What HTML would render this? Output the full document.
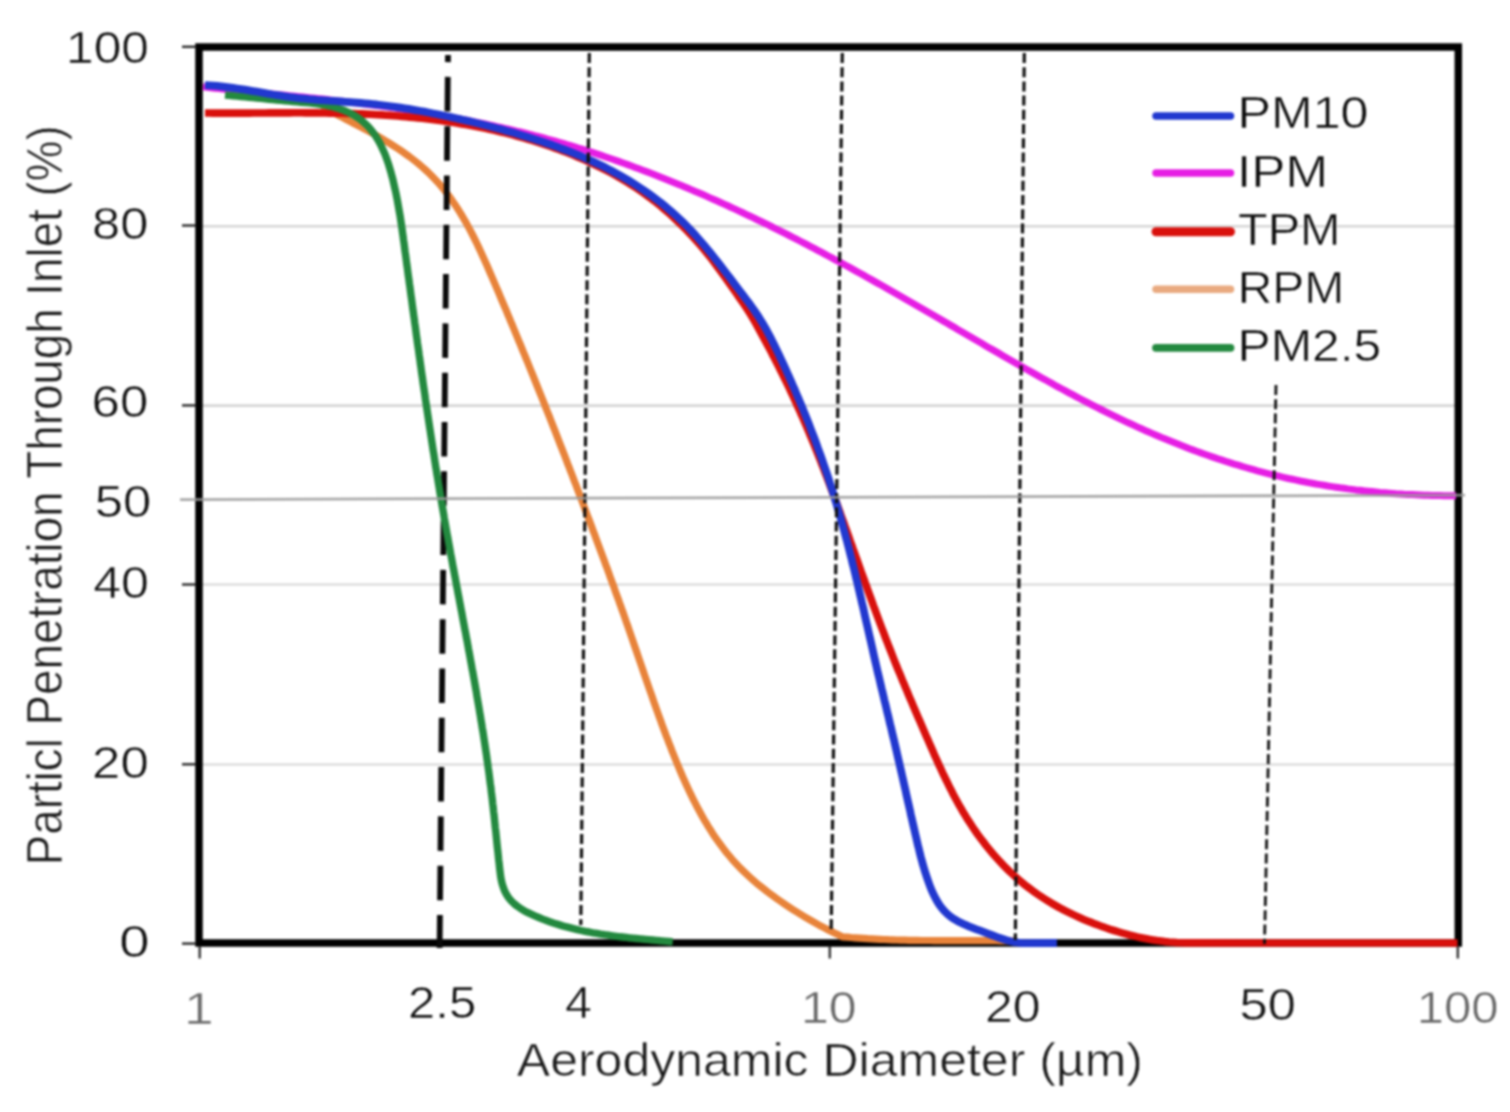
<!DOCTYPE html>
<html lang="en"><head><meta charset="utf-8"><title>Particle penetration through inlet</title>
<style>html,body{margin:0;padding:0;background:#fff}body{width:1510px;height:1112px;overflow:hidden}svg{display:block;filter:blur(0.8px)}text{font-kerning:none;stroke:#fff;stroke-width:0.6px;stroke-linejoin:round}</style>
</head><body>
<svg width="1510" height="1112" viewBox="0 0 1510 1112" font-family="Liberation Sans, sans-serif">
<rect width="1510" height="1112" fill="#fff"/>
<line x1="200" x2="1458" y1="226.3" y2="226.3" stroke="#d6d6d6" stroke-width="2.6"/>
<line x1="200" x2="1458" y1="405.6" y2="405.6" stroke="#d6d6d6" stroke-width="2.6"/>
<line x1="200" x2="1458" y1="584.5" y2="584.5" stroke="#d6d6d6" stroke-width="2"/>
<line x1="200" x2="1458" y1="764.5" y2="764.5" stroke="#d6d6d6" stroke-width="2"/>
<rect x="199" y="47" width="1259.3" height="896" fill="none" stroke="#000" stroke-width="7.5"/>
<line x1="182" x2="196" y1="46.8" y2="46.8" stroke="#2a2a2a" stroke-width="2.4"/>
<line x1="182" x2="196" y1="225.5" y2="225.5" stroke="#2a2a2a" stroke-width="2.4"/>
<line x1="182" x2="196" y1="405.4" y2="405.4" stroke="#2a2a2a" stroke-width="2.4"/>
<line x1="182" x2="196" y1="584.5" y2="584.5" stroke="#2a2a2a" stroke-width="2.4"/>
<line x1="182" x2="196" y1="764.3" y2="764.3" stroke="#2a2a2a" stroke-width="2.4"/>
<line x1="182" x2="196" y1="943.6" y2="943.6" stroke="#2a2a2a" stroke-width="2.4"/>
<line x1="199.7" x2="199.7" y1="946" y2="958.5" stroke="#333" stroke-width="2.4"/>
<line x1="829.8" x2="829.8" y1="946" y2="958.5" stroke="#333" stroke-width="2.4"/>
<line x1="1457.8" x2="1457.8" y1="946" y2="958.5" stroke="#333" stroke-width="2.4"/>
<path d="M203.0,86.8 L207.0,87.3 L211.0,87.7 L215.0,88.2 L219.0,88.6 L223.0,89.1 L227.0,89.5 L231.0,89.9 L235.0,90.3 L238.9,90.7 L242.9,91.1 L246.9,91.5 L250.9,91.9 L254.9,92.3 L258.9,92.7 L262.9,93.1 L266.9,93.5 L270.9,93.9 L274.9,94.3 L278.9,94.7 L282.9,95.1 L286.9,95.5 L290.9,95.9 L294.8,96.3 L298.8,96.7 L302.8,97.1 L306.8,97.5 L310.8,97.9 L314.8,98.3 L318.8,98.7 L322.8,99.1 L326.7,99.5 L330.7,100.0 L334.7,100.4 L338.7,100.9 L342.7,101.3 L346.6,101.8 L350.6,102.2 L354.6,102.7 L358.6,103.2 L362.5,103.7 L366.5,104.2 L370.5,104.7 L374.4,105.2 L378.4,105.7 L382.4,106.3 L386.3,106.8 L390.3,107.4 L394.3,107.9 L398.2,108.5 L402.2,109.1 L406.1,109.7 L410.1,110.3 L414.0,110.9 L418.0,111.6 L422.0,112.2 L425.9,112.9 L429.9,113.5 L433.8,114.2 L437.8,114.9 L441.7,115.6 L445.6,116.3 L449.6,117.0 L453.5,117.8 L457.5,118.5 L461.4,119.3 L465.4,120.0 L469.3,120.8 L473.2,121.6 L477.2,122.4 L481.1,123.2 L485.0,124.0 L489.0,124.9 L492.9,125.7 L496.8,126.6 L500.8,127.4 L504.7,128.3 L508.6,129.2 L512.5,130.1 L516.4,131.1 L520.3,132.0 L524.2,133.0 L528.1,134.0 L532.0,134.9 L535.9,136.0 L539.8,137.0 L543.6,138.0 L547.5,139.1 L551.4,140.1 L555.3,141.2 L559.1,142.3 L563.0,143.4 L566.8,144.6 L570.6,145.7 L574.5,146.9 L578.3,148.1 L582.1,149.2 L586.0,150.4 L589.8,151.7 L593.6,152.9 L597.4,154.1 L601.2,155.4 L605.0,156.7 L608.8,158.0 L612.6,159.3 L616.4,160.6 L620.2,161.9 L623.9,163.3 L627.7,164.6 L631.5,166.0 L635.2,167.4 L639.0,168.8 L642.7,170.2 L646.5,171.6 L650.2,173.0 L654.0,174.5 L657.7,175.9 L661.4,177.4 L665.2,178.9 L668.9,180.4 L672.6,181.9 L676.3,183.4 L680.0,184.9 L683.7,186.5 L687.4,188.0 L691.1,189.6 L694.8,191.2 L698.5,192.7 L702.2,194.3 L705.8,195.9 L709.5,197.6 L713.2,199.2 L716.8,200.8 L720.5,202.5 L724.1,204.1 L727.8,205.8 L731.4,207.5 L735.1,209.1 L738.7,210.8 L742.3,212.5 L746.0,214.3 L749.6,216.0 L753.2,217.7 L756.8,219.5 L760.5,221.2 L764.1,223.0 L767.7,224.7 L771.3,226.5 L774.9,228.3 L778.5,230.1 L782.0,231.9 L785.6,233.7 L789.2,235.5 L792.8,237.3 L796.4,239.2 L799.9,241.0 L803.5,242.8 L807.0,244.7 L810.6,246.6 L814.2,248.4 L817.7,250.3 L821.3,252.2 L824.8,254.1 L828.3,256.0 L831.9,257.9 L835.4,259.8 L838.9,261.7 L842.4,263.6 L846.0,265.5 L849.5,267.4 L853.0,269.4 L856.5,271.3 L860.0,273.3 L863.5,275.2 L867.0,277.2 L870.5,279.1 L874.0,281.1 L877.5,283.1 L881.0,285.0 L884.5,287.0 L887.9,289.0 L891.4,291.0 L894.9,293.0 L898.4,295.0 L901.9,297.0 L905.3,299.0 L908.8,301.0 L912.3,303.0 L915.7,305.0 L919.2,307.0 L922.7,309.0 L926.1,311.0 L929.6,313.0 L933.1,315.0 L936.5,317.0 L940.0,319.1 L943.5,321.1 L946.9,323.1 L950.4,325.1 L953.9,327.1 L957.3,329.2 L960.8,331.2 L964.3,333.2 L967.7,335.2 L971.2,337.3 L974.6,339.3 L978.1,341.3 L981.6,343.3 L985.1,345.4 L988.5,347.4 L992.0,349.4 L995.5,351.4 L999.0,353.4 L1002.4,355.4 L1005.9,357.5 L1009.4,359.5 L1012.9,361.5 L1016.4,363.5 L1019.9,365.5 L1023.3,367.5 L1026.8,369.5 L1030.3,371.4 L1033.8,373.4 L1037.3,375.4 L1040.8,377.4 L1044.4,379.3 L1047.9,381.3 L1051.4,383.2 L1054.9,385.2 L1058.4,387.1 L1062.0,389.0 L1065.5,390.9 L1069.0,392.8 L1072.6,394.7 L1076.1,396.6 L1079.7,398.5 L1083.2,400.4 L1086.8,402.2 L1090.4,404.1 L1093.9,405.9 L1097.5,407.7 L1101.1,409.5 L1104.7,411.3 L1108.3,413.1 L1111.9,414.9 L1115.5,416.6 L1119.1,418.4 L1122.7,420.1 L1126.3,421.8 L1130.0,423.5 L1133.6,425.2 L1137.2,426.9 L1140.9,428.5 L1144.5,430.2 L1148.2,431.8 L1151.9,433.4 L1155.6,435.0 L1159.2,436.5 L1162.9,438.1 L1166.6,439.6 L1170.3,441.1 L1174.0,442.6 L1177.8,444.1 L1181.5,445.6 L1185.2,447.0 L1188.9,448.5 L1192.7,449.9 L1196.4,451.3 L1200.2,452.6 L1204.0,454.0 L1207.7,455.3 L1211.5,456.6 L1215.3,457.9 L1219.1,459.2 L1222.9,460.4 L1226.7,461.7 L1230.5,462.9 L1234.3,464.1 L1238.2,465.2 L1242.0,466.4 L1245.8,467.5 L1249.7,468.6 L1253.5,469.7 L1257.4,470.8 L1261.3,471.8 L1265.1,472.8 L1269.0,473.8 L1272.9,474.8 L1276.8,475.7 L1280.7,476.7 L1284.6,477.6 L1288.5,478.5 L1292.4,479.3 L1296.4,480.1 L1300.3,481.0 L1304.2,481.7 L1308.2,482.5 L1312.2,483.2 L1316.1,484.0 L1320.1,484.6 L1324.0,485.3 L1328.0,486.0 L1332.0,486.6 L1336.0,487.2 L1340.0,487.8 L1344.0,488.3 L1347.9,488.9 L1351.9,489.4 L1355.9,489.9 L1359.9,490.3 L1363.9,490.8 L1368.0,491.2 L1372.0,491.6 L1376.0,492.0 L1380.0,492.4 L1384.0,492.7 L1388.0,493.1 L1392.0,493.4 L1396.0,493.7 L1400.0,493.9 L1404.0,494.2 L1408.0,494.4 L1412.1,494.6 L1416.1,494.8 L1420.1,495.0 L1424.1,495.2 L1428.1,495.3 L1432.1,495.4 L1436.1,495.5 L1440.0,495.6 L1444.0,495.7 L1448.0,495.7 L1452.0,495.8 L1456.0,495.8" fill="none" stroke="#e61ee4" stroke-width="7" stroke-linejoin="round"/>
<path d="M322.1,106.4 L325.5,108.3 L328.9,110.2 L332.4,112.1 L335.8,113.9 L339.3,115.8 L342.9,117.6 L346.4,119.5 L349.9,121.3 L353.5,123.2 L357.1,125.0 L360.6,126.9 L364.2,128.8 L367.7,130.7 L371.3,132.7 L374.9,134.7 L378.4,136.7 L381.9,138.7 L385.4,140.8 L388.9,142.9 L392.4,145.1 L395.8,147.3 L399.3,149.5 L402.6,151.8 L406.0,154.2 L409.2,156.5 L412.5,159.0 L415.7,161.5 L418.8,164.0 L421.8,166.6 L424.8,169.3 L427.8,172.0 L430.6,174.8 L433.4,177.6 L436.1,180.5 L438.8,183.4 L441.4,186.4 L443.9,189.5 L446.3,192.6 L448.7,195.7 L451.0,198.9 L453.3,202.2 L455.5,205.4 L457.7,208.8 L459.8,212.1 L461.9,215.5 L463.9,219.0 L465.9,222.4 L467.8,225.9 L469.7,229.4 L471.6,233.0 L473.4,236.5 L475.2,240.1 L477.0,243.8 L478.7,247.4 L480.4,251.0 L482.1,254.7 L483.8,258.4 L485.4,262.1 L487.1,265.8 L488.7,269.5 L490.3,273.2 L491.9,276.9 L493.5,280.7 L495.1,284.4 L496.7,288.1 L498.3,291.8 L499.9,295.6 L501.4,299.3 L503.0,303.0 L504.6,306.7 L506.2,310.4 L507.7,314.2 L509.3,317.9 L510.8,321.6 L512.4,325.3 L513.9,329.0 L515.5,332.8 L517.0,336.5 L518.5,340.2 L520.1,343.9 L521.6,347.6 L523.1,351.4 L524.7,355.1 L526.2,358.8 L527.7,362.5 L529.2,366.3 L530.7,370.0 L532.2,373.7 L533.7,377.4 L535.2,381.1 L536.7,384.9 L538.2,388.6 L539.7,392.3 L541.2,396.0 L542.7,399.8 L544.2,403.5 L545.6,407.2 L547.1,411.0 L548.6,414.7 L550.1,418.4 L551.5,422.1 L553.0,425.9 L554.5,429.6 L555.9,433.3 L557.4,437.1 L558.8,440.8 L560.3,444.6 L561.8,448.3 L563.2,452.0 L564.7,455.8 L566.1,459.5 L567.5,463.3 L569.0,467.0 L570.4,470.7 L571.9,474.5 L573.3,478.2 L574.7,482.0 L576.2,485.7 L577.6,489.5 L579.0,493.2 L580.4,497.0 L581.9,500.8 L583.3,504.5 L584.7,508.3 L586.1,512.0 L587.5,515.8 L589.0,519.6 L590.4,523.3 L591.8,527.1 L593.2,530.9 L594.6,534.6 L596.0,538.4 L597.4,542.2 L598.8,546.0 L600.2,549.7 L601.6,553.5 L603.0,557.3 L604.4,561.1 L605.8,564.9 L607.2,568.6 L608.6,572.4 L609.9,576.2 L611.3,580.0 L612.7,583.8 L614.1,587.6 L615.4,591.4 L616.8,595.2 L618.2,598.9 L619.5,602.7 L620.9,606.5 L622.2,610.3 L623.6,614.1 L624.9,617.9 L626.2,621.7 L627.6,625.5 L628.9,629.3 L630.2,633.1 L631.5,636.9 L632.8,640.7 L634.1,644.5 L635.4,648.2 L636.7,652.0 L638.0,655.8 L639.3,659.6 L640.6,663.4 L641.9,667.2 L643.2,671.0 L644.5,674.8 L645.8,678.6 L647.1,682.4 L648.4,686.2 L649.7,689.9 L651.1,693.7 L652.4,697.5 L653.7,701.3 L655.0,705.1 L656.4,708.9 L657.7,712.6 L659.1,716.4 L660.5,720.2 L661.8,724.0 L663.2,727.7 L664.6,731.5 L666.0,735.3 L667.5,739.0 L668.9,742.8 L670.4,746.5 L671.8,750.3 L673.3,754.0 L674.8,757.8 L676.3,761.5 L677.9,765.3 L679.4,769.0 L681.0,772.7 L682.6,776.5 L684.3,780.2 L685.9,783.9 L687.6,787.5 L689.3,791.2 L691.1,794.9 L692.8,798.5 L694.7,802.1 L696.5,805.7 L698.4,809.2 L700.3,812.8 L702.2,816.3 L704.2,819.8 L706.3,823.2 L708.3,826.6 L710.5,830.0 L712.6,833.4 L714.8,836.7 L717.1,840.0 L719.4,843.2 L721.8,846.4 L724.2,849.6 L726.6,852.7 L729.2,855.8 L731.7,858.8 L734.4,861.8 L737.1,864.7 L739.8,867.6 L742.6,870.4 L745.5,873.2 L748.4,875.9 L751.4,878.6 L754.4,881.3 L757.5,883.9 L760.6,886.4 L763.8,888.9 L766.9,891.4 L770.2,893.8 L773.4,896.2 L776.7,898.6 L780.0,900.9 L783.4,903.2 L786.7,905.4 L790.1,907.7 L793.5,909.9 L796.9,912.0 L800.4,914.2 L803.8,916.3 L807.3,918.3 L810.8,920.4 L814.3,922.4 L817.8,924.3 L821.3,926.3 L824.9,928.1 L828.4,930.0 L832.0,931.8 L835.6,933.6 L839.2,935.3 L842.8,937.0 L847.1,937.1 L851.2,937.5 L855.3,937.8 L859.5,938.1 L863.6,938.4 L867.7,938.7 L871.8,938.9 L876.0,939.1 L880.1,939.3 L884.2,939.5 L888.4,939.7 L892.5,939.8 L896.7,940.0 L900.8,940.1 L905.0,940.2 L909.1,940.3 L913.3,940.4 L917.4,940.4 L921.6,940.5 L925.7,940.5 L929.9,940.5 L934.0,940.6 L938.2,940.6 L942.3,940.6 L946.5,940.6 L950.6,940.6 L954.8,940.6 L958.9,940.6 L963.1,940.6 L967.2,940.6 L971.4,940.6 L975.5,940.6 L979.7,940.6 L983.8,940.7 L988.0,940.7 L992.1,940.7 L996.3,940.7 L1000.4,940.8 L1004.6,940.8 L1008.7,940.9 L1012.9,941.0 L1017.0,941.0" fill="none" stroke="#e8833a" stroke-width="7.2" stroke-linejoin="round"/>
<line x1="448" y1="55" x2="439.6" y2="948" stroke="#0a0a0a" stroke-width="5.8" stroke-dasharray="34.5 14.8" stroke-dashoffset="27.4"/>
<path d="M205.0,113.0 L209.0,113.0 L213.0,113.1 L217.1,113.1 L221.1,113.1 L225.1,113.1 L229.1,113.1 L233.1,113.1 L237.2,113.1 L241.2,113.1 L245.2,113.1 L249.2,113.1 L253.3,113.0 L257.3,113.0 L261.3,113.0 L265.3,113.0 L269.4,112.9 L273.4,112.9 L277.4,112.9 L281.4,112.9 L285.4,112.9 L289.5,112.9 L293.5,112.8 L297.5,112.8 L301.5,112.8 L305.6,112.9 L309.6,112.9 L313.6,112.9 L317.6,112.9 L321.7,113.0 L325.7,113.0 L329.7,113.1 L333.7,113.1 L337.7,113.2 L341.8,113.3 L345.8,113.4 L349.8,113.5 L353.8,113.6 L357.8,113.8 L361.9,113.9 L365.9,114.1 L369.9,114.3 L373.9,114.5 L377.9,114.7 L381.9,114.9 L386.0,115.2 L390.0,115.4 L394.0,115.7 L398.0,116.0 L402.0,116.4 L406.0,116.7 L410.0,117.1 L414.0,117.5 L418.0,117.9 L422.0,118.3 L426.0,118.8 L430.0,119.2 L434.0,119.7 L438.0,120.3 L442.0,120.8 L446.0,121.4 L449.9,122.0 L453.9,122.6 L457.9,123.2 L461.8,123.9 L465.8,124.6 L469.8,125.3 L473.7,126.0 L477.7,126.8 L481.6,127.6 L485.5,128.4 L489.5,129.3 L493.4,130.1 L497.3,131.0 L501.2,132.0 L505.1,132.9 L509.0,133.9 L512.9,134.9 L516.8,136.0 L520.6,137.0 L524.5,138.1 L528.4,139.3 L532.2,140.4 L536.0,141.6 L539.9,142.8 L543.7,144.1 L547.5,145.4 L551.3,146.7 L555.1,148.1 L558.9,149.5 L562.7,150.9 L566.4,152.3 L570.2,153.8 L573.9,155.3 L577.6,156.9 L581.4,158.5 L585.1,160.1 L588.7,161.8 L592.4,163.5 L596.0,165.2 L599.7,167.0 L603.3,168.8 L606.9,170.6 L610.4,172.5 L614.0,174.5 L617.5,176.4 L621.0,178.5 L624.4,180.5 L627.8,182.6 L631.2,184.7 L634.6,186.9 L638.0,189.1 L641.3,191.4 L644.5,193.7 L647.8,196.1 L651.0,198.5 L654.2,200.9 L657.3,203.4 L660.4,205.9 L663.5,208.5 L666.5,211.1 L669.5,213.7 L672.5,216.4 L675.4,219.1 L678.3,221.9 L681.2,224.7 L684.0,227.5 L686.8,230.4 L689.6,233.3 L692.3,236.2 L695.0,239.2 L697.7,242.2 L700.4,245.2 L703.0,248.3 L705.5,251.4 L708.1,254.6 L710.6,257.7 L713.1,260.9 L715.5,264.1 L717.9,267.4 L720.3,270.6 L722.7,273.9 L725.1,277.2 L727.4,280.5 L729.7,283.8 L732.0,287.1 L734.3,290.4 L736.6,293.7 L738.9,297.0 L741.2,300.3 L743.5,303.6 L745.7,306.9 L747.9,310.2 L750.0,313.6 L752.1,317.0 L754.1,320.4 L756.1,323.9 L758.0,327.4 L759.9,330.9 L761.8,334.4 L763.7,337.9 L765.6,341.4 L767.5,345.0 L769.4,348.5 L771.3,352.1 L773.1,355.7 L775.0,359.2 L776.8,362.8 L778.6,366.4 L780.4,370.0 L782.2,373.6 L784.0,377.3 L785.8,380.9 L787.5,384.5 L789.3,388.2 L791.0,391.8 L792.7,395.5 L794.4,399.1 L796.1,402.8 L797.7,406.5 L799.4,410.1 L801.0,413.8 L802.7,417.5 L804.3,421.2 L805.9,424.9 L807.4,428.6 L809.0,432.3 L810.5,436.0 L812.1,439.7 L813.6,443.4 L815.1,447.2 L816.6,450.9 L818.1,454.6 L819.6,458.4 L821.1,462.1 L822.5,465.9 L824.0,469.6 L825.4,473.3 L826.9,477.1 L828.3,480.9 L829.7,484.6 L831.1,488.4 L832.5,492.1 L833.9,495.9 L835.3,499.7 L836.7,503.4 L838.1,507.2 L839.5,511.0 L840.8,514.8 L842.2,518.5 L843.6,522.3 L844.9,526.1 L846.3,529.9 L847.6,533.6 L849.0,537.4 L850.3,541.2 L851.7,545.0 L853.0,548.8 L854.4,552.6 L855.7,556.3 L857.1,560.1 L858.4,563.9 L859.8,567.7 L861.1,571.5 L862.5,575.3 L863.9,579.0 L865.2,582.8 L866.6,586.6 L867.9,590.4 L869.3,594.1 L870.7,597.9 L872.1,601.7 L873.4,605.5 L874.8,609.2 L876.2,613.0 L877.6,616.8 L879.0,620.5 L880.4,624.3 L881.8,628.0 L883.3,631.8 L884.7,635.6 L886.1,639.3 L887.6,643.1 L889.0,646.8 L890.5,650.5 L892.0,654.3 L893.4,658.0 L894.9,661.8 L896.4,665.5 L897.9,669.2 L899.5,672.9 L901.0,676.7 L902.5,680.4 L904.1,684.1 L905.6,687.8 L907.2,691.5 L908.7,695.2 L910.3,698.9 L911.9,702.6 L913.4,706.3 L915.0,710.0 L916.6,713.7 L918.2,717.4 L919.8,721.1 L921.4,724.8 L923.0,728.5 L924.6,732.2 L926.2,735.9 L927.8,739.6 L929.4,743.3 L931.0,746.9 L932.6,750.6 L934.2,754.3 L935.9,758.0 L937.5,761.6 L939.2,765.3 L940.9,768.9 L942.5,772.6 L944.3,776.2 L946.0,779.8 L947.8,783.4 L949.5,787.0 L951.4,790.6 L953.2,794.2 L955.1,797.7 L957.0,801.2 L958.9,804.7 L960.9,808.2 L962.9,811.7 L965.0,815.1 L967.1,818.6 L969.3,821.9 L971.5,825.3 L973.7,828.7 L976.0,832.0 L978.3,835.3 L980.7,838.5 L983.2,841.7 L985.6,844.9 L988.2,848.1 L990.7,851.2 L993.3,854.3 L996.0,857.3 L998.7,860.3 L1001.4,863.2 L1004.2,866.1 L1007.1,869.0 L1009.9,871.8 L1012.9,874.5 L1015.8,877.2 L1018.9,879.8 L1021.9,882.4 L1025.0,885.0 L1028.2,887.4 L1031.4,889.8 L1034.6,892.2 L1037.9,894.5 L1041.2,896.7 L1044.6,898.9 L1048.0,901.0 L1051.4,903.1 L1054.9,905.1 L1058.4,907.1 L1061.9,909.0 L1065.5,910.8 L1069.1,912.6 L1072.7,914.4 L1076.4,916.1 L1080.0,917.8 L1083.7,919.4 L1087.4,920.9 L1091.2,922.4 L1094.9,923.9 L1098.7,925.3 L1102.5,926.7 L1106.3,928.0 L1110.1,929.3 L1114.0,930.5 L1117.8,931.7 L1121.7,932.8 L1125.5,933.9 L1129.4,935.0 L1133.3,935.9 L1137.2,936.9 L1141.1,937.7 L1145.1,938.5 L1149.0,939.3 L1153.0,940.0 L1156.9,940.6 L1160.9,941.1 L1164.9,941.6 L1168.9,942.0 L1172.9,942.3 L1176.9,942.6 L1180.9,942.8 L1185.0,942.9 L1189.0,942.9 L1457.5,943.0" fill="none" stroke="#d9100c" stroke-width="7.6" stroke-linejoin="round"/>
<path d="M225.0,95.1 L229.1,95.4 L233.1,95.8 L237.1,96.1 L241.1,96.5 L245.1,96.9 L249.1,97.2 L253.1,97.6 L257.1,98.0 L261.1,98.4 L265.1,98.8 L269.0,99.2 L273.0,99.6 L277.0,100.0 L281.0,100.4 L285.0,100.8 L289.0,101.1 L293.0,101.5 L297.0,101.9 L301.0,102.2 L305.1,102.6 L309.2,102.9 L313.2,103.4 L317.3,103.9 L321.3,104.5 L325.3,105.2 L329.3,106.0 L333.3,106.9 L337.2,108.1 L341.1,109.4 L344.9,110.8 L348.6,112.5 L352.2,114.3 L355.6,116.3 L358.9,118.4 L362.0,120.8 L364.9,123.4 L367.7,126.1 L370.3,128.9 L372.7,132.0 L375.0,135.1 L377.1,138.4 L379.1,141.8 L380.9,145.3 L382.6,149.0 L384.3,152.7 L385.8,156.4 L387.2,160.3 L388.5,164.2 L389.7,168.1 L390.9,172.1 L391.9,176.1 L393.0,180.1 L393.9,184.1 L394.8,188.1 L395.7,192.0 L396.5,196.0 L397.3,200.0 L398.0,204.0 L398.7,208.0 L399.4,212.0 L400.1,215.9 L400.7,219.9 L401.3,223.9 L401.9,227.9 L402.4,231.8 L403.0,235.8 L403.5,239.8 L404.1,243.8 L404.6,247.7 L405.1,251.7 L405.7,255.7 L406.2,259.6 L406.7,263.6 L407.3,267.6 L407.8,271.6 L408.3,275.5 L408.9,279.5 L409.4,283.5 L410.0,287.5 L410.5,291.5 L411.0,295.4 L411.6,299.4 L412.1,303.4 L412.6,307.4 L413.2,311.4 L413.7,315.3 L414.3,319.3 L414.8,323.3 L415.4,327.3 L415.9,331.3 L416.4,335.2 L417.0,339.2 L417.5,343.2 L418.1,347.2 L418.7,351.2 L419.2,355.2 L419.8,359.1 L420.3,363.1 L420.9,367.1 L421.4,371.1 L422.0,375.1 L422.6,379.1 L423.1,383.0 L423.7,387.0 L424.3,391.0 L424.9,395.0 L425.4,399.0 L426.0,403.0 L426.6,406.9 L427.2,410.9 L427.8,414.9 L428.4,418.9 L429.0,422.9 L429.6,426.9 L430.2,430.8 L430.8,434.8 L431.4,438.8 L432.0,442.8 L432.6,446.8 L433.2,450.7 L433.9,454.7 L434.5,458.7 L435.1,462.7 L435.7,466.6 L436.4,470.6 L437.0,474.6 L437.7,478.6 L438.3,482.5 L439.0,486.5 L439.6,490.5 L440.3,494.5 L440.9,498.4 L441.6,502.4 L442.3,506.4 L443.0,510.3 L443.7,514.3 L444.3,518.3 L445.0,522.2 L445.7,526.2 L446.4,530.2 L447.1,534.1 L447.9,538.1 L448.6,542.1 L449.3,546.0 L450.0,550.0 L450.7,554.0 L451.5,557.9 L452.2,561.9 L452.9,565.8 L453.7,569.8 L454.4,573.7 L455.2,577.7 L455.9,581.7 L456.6,585.6 L457.4,589.6 L458.1,593.5 L458.9,597.5 L459.6,601.4 L460.4,605.4 L461.1,609.3 L461.9,613.3 L462.6,617.3 L463.3,621.2 L464.1,625.2 L464.8,629.1 L465.6,633.1 L466.3,637.0 L467.1,641.0 L467.8,644.9 L468.5,648.9 L469.3,652.9 L470.0,656.8 L470.7,660.8 L471.4,664.7 L472.1,668.7 L472.9,672.6 L473.6,676.6 L474.3,680.5 L475.0,684.5 L475.7,688.5 L476.4,692.4 L477.0,696.4 L477.7,700.3 L478.4,704.3 L479.1,708.3 L479.7,712.2 L480.4,716.2 L481.0,720.1 L481.7,724.1 L482.3,728.1 L483.0,732.0 L483.6,736.0 L484.2,740.0 L484.8,743.9 L485.4,747.9 L486.0,751.9 L486.6,755.9 L487.1,759.8 L487.7,763.8 L488.2,767.8 L488.8,771.8 L489.3,775.7 L489.8,779.7 L490.3,783.7 L490.9,787.7 L491.3,791.7 L491.8,795.6 L492.3,799.6 L492.7,803.6 L493.2,807.6 L493.6,811.6 L494.1,815.6 L494.5,819.6 L494.9,823.6 L495.3,827.6 L495.8,831.6 L496.2,835.6 L496.6,839.7 L497.0,843.7 L497.4,847.7 L497.9,851.8 L498.3,855.8 L498.7,859.9 L499.2,863.9 L499.6,868.0 L500.1,872.0 L500.6,876.1 L501.3,880.1 L502.2,883.9 L503.4,887.7 L504.8,891.3 L506.6,894.7 L508.7,897.8 L511.2,900.8 L513.9,903.5 L517.0,906.0 L520.3,908.3 L523.7,910.4 L527.4,912.4 L531.1,914.2 L534.9,915.9 L538.8,917.5 L542.6,919.1 L546.4,920.5 L550.3,921.9 L554.1,923.2 L558.0,924.4 L561.8,925.6 L565.7,926.7 L569.6,927.7 L573.4,928.7 L577.3,929.6 L581.2,930.5 L585.1,931.3 L589.0,932.0 L592.9,932.8 L596.8,933.4 L600.7,934.1 L604.6,934.7 L608.5,935.2 L612.5,935.8 L616.4,936.3 L620.3,936.8 L624.3,937.2 L628.3,937.7 L632.3,938.1 L636.2,938.5 L640.2,938.9 L644.3,939.3 L648.3,939.6 L652.3,940.0 L656.4,940.4 L660.4,940.8 L664.5,941.1 L668.6,941.5 L672.7,941.9" fill="none" stroke="#23893f" stroke-width="7.4" stroke-linejoin="round"/>
<path d="M205.0,85.1 L209.0,85.3 L213.0,85.6 L217.1,85.9 L221.1,86.3 L225.1,86.8 L229.0,87.3 L233.0,87.9 L237.0,88.5 L241.0,89.1 L244.9,89.7 L248.9,90.4 L252.9,91.1 L256.8,91.7 L260.8,92.4 L264.8,93.1 L268.7,93.8 L272.7,94.5 L276.7,95.1 L280.7,95.7 L284.6,96.3 L288.6,96.9 L292.6,97.4 L296.6,97.9 L300.6,98.3 L304.6,98.7 L308.6,99.1 L312.6,99.4 L316.6,99.8 L320.7,100.1 L324.7,100.4 L328.7,100.7 L332.7,100.9 L336.7,101.2 L340.8,101.5 L344.8,101.8 L348.8,102.1 L352.8,102.4 L356.8,102.7 L360.8,103.0 L364.8,103.3 L368.8,103.7 L372.8,104.1 L376.8,104.5 L380.8,105.0 L384.8,105.5 L388.7,106.0 L392.7,106.5 L396.7,107.1 L400.6,107.7 L404.6,108.3 L408.6,108.9 L412.5,109.6 L416.4,110.3 L420.4,111.0 L424.3,111.7 L428.3,112.5 L432.2,113.3 L436.1,114.0 L440.1,114.9 L444.0,115.7 L447.9,116.5 L451.9,117.4 L455.8,118.2 L459.7,119.1 L463.6,120.0 L467.6,120.9 L471.5,121.8 L475.4,122.8 L479.3,123.7 L483.2,124.7 L487.1,125.7 L491.0,126.7 L494.9,127.7 L498.8,128.7 L502.7,129.8 L506.6,130.9 L510.5,132.0 L514.4,133.1 L518.2,134.2 L522.1,135.4 L525.9,136.5 L529.8,137.7 L533.6,138.9 L537.5,140.2 L541.3,141.4 L545.1,142.7 L548.9,144.0 L552.7,145.3 L556.5,146.7 L560.2,148.1 L564.0,149.5 L567.7,150.9 L571.5,152.4 L575.2,153.9 L578.9,155.4 L582.6,157.0 L586.2,158.6 L589.9,160.2 L593.5,161.9 L597.2,163.6 L600.8,165.3 L604.4,167.1 L607.9,168.9 L611.5,170.8 L615.0,172.7 L618.6,174.6 L622.1,176.6 L625.5,178.6 L629.0,180.7 L632.4,182.8 L635.8,185.0 L639.2,187.2 L642.6,189.4 L645.9,191.7 L649.2,194.0 L652.5,196.4 L655.7,198.8 L658.9,201.3 L662.1,203.7 L665.2,206.3 L668.3,208.9 L671.3,211.5 L674.3,214.2 L677.3,216.9 L680.2,219.6 L683.1,222.4 L686.0,225.2 L688.8,228.1 L691.5,231.0 L694.3,234.0 L697.0,237.0 L699.6,240.0 L702.2,243.0 L704.8,246.1 L707.4,249.2 L710.0,252.3 L712.5,255.4 L715.0,258.6 L717.5,261.7 L720.0,264.9 L722.4,268.1 L724.9,271.3 L727.3,274.5 L729.8,277.7 L732.2,280.9 L734.6,284.1 L737.1,287.3 L739.5,290.5 L741.9,293.6 L744.3,296.8 L746.7,300.0 L749.1,303.2 L751.5,306.5 L753.8,309.7 L756.0,313.0 L758.3,316.3 L760.4,319.7 L762.5,323.1 L764.5,326.5 L766.5,330.0 L768.4,333.6 L770.3,337.1 L772.1,340.7 L773.9,344.3 L775.7,347.9 L777.5,351.6 L779.2,355.2 L780.9,358.9 L782.6,362.5 L784.3,366.2 L786.0,369.9 L787.6,373.5 L789.3,377.2 L790.9,380.9 L792.5,384.6 L794.2,388.3 L795.7,392.0 L797.3,395.7 L798.9,399.4 L800.4,403.1 L802.0,406.8 L803.5,410.6 L805.0,414.3 L806.5,418.0 L808.0,421.8 L809.5,425.5 L810.9,429.3 L812.3,433.0 L813.8,436.8 L815.2,440.5 L816.6,444.3 L817.9,448.1 L819.3,451.9 L820.7,455.7 L822.0,459.4 L823.3,463.2 L824.6,467.0 L825.9,470.8 L827.2,474.6 L828.5,478.5 L829.7,482.3 L830.9,486.1 L832.2,489.9 L833.4,493.8 L834.5,497.6 L835.7,501.4 L836.9,505.3 L838.0,509.1 L839.1,513.0 L840.3,516.9 L841.4,520.7 L842.4,524.6 L843.5,528.5 L844.6,532.4 L845.6,536.2 L846.7,540.1 L847.7,544.0 L848.7,547.9 L849.7,551.8 L850.7,555.7 L851.7,559.6 L852.6,563.5 L853.6,567.4 L854.6,571.3 L855.5,575.2 L856.4,579.1 L857.4,583.1 L858.3,587.0 L859.2,590.9 L860.1,594.8 L861.0,598.7 L861.9,602.7 L862.9,606.6 L863.8,610.5 L864.6,614.4 L865.5,618.4 L866.4,622.3 L867.3,626.2 L868.2,630.1 L869.1,634.1 L870.0,638.0 L870.9,641.9 L871.8,645.8 L872.7,649.8 L873.5,653.7 L874.4,657.6 L875.3,661.5 L876.2,665.4 L877.1,669.4 L878.0,673.3 L879.0,677.2 L879.9,681.1 L880.8,685.0 L881.7,688.9 L882.7,692.8 L883.6,696.7 L884.5,700.6 L885.5,704.5 L886.4,708.4 L887.3,712.3 L888.3,716.2 L889.2,720.1 L890.1,724.0 L891.1,727.9 L892.0,731.9 L892.9,735.8 L893.9,739.7 L894.8,743.6 L895.7,747.5 L896.6,751.4 L897.5,755.3 L898.4,759.3 L899.3,763.2 L900.2,767.1 L901.1,771.0 L902.0,775.0 L902.9,778.9 L903.8,782.8 L904.7,786.8 L905.6,790.7 L906.4,794.6 L907.3,798.6 L908.2,802.5 L909.1,806.4 L910.0,810.3 L910.8,814.3 L911.7,818.2 L912.6,822.1 L913.5,826.0 L914.4,829.9 L915.3,833.8 L916.2,837.7 L917.1,841.6 L918.0,845.5 L919.0,849.4 L919.9,853.3 L920.9,857.2 L922.0,861.1 L923.0,864.9 L924.2,868.8 L925.3,872.6 L926.6,876.5 L927.9,880.3 L929.3,884.2 L930.7,888.0 L932.3,891.8 L934.1,895.4 L935.9,899.0 L937.9,902.5 L940.1,905.8 L942.5,908.9 L945.1,911.8 L947.9,914.5 L951.0,917.0 L954.3,919.2 L957.7,921.2 L961.4,923.0 L965.1,924.7 L968.9,926.3 L972.7,927.8 L976.5,929.3 L980.3,930.7 L984.1,932.1 L987.9,933.6 L991.6,935.0 L995.4,936.4 L999.1,937.8 L1002.9,939.0 L1006.7,940.2 L1010.5,941.2 L1014.4,942.1 L1018.4,942.7 L1022.5,943.2 L1056.9,943.0" fill="none" stroke="#2138cf" stroke-width="7.8" stroke-linejoin="round"/>
<line x1="589.3" y1="53" x2="580.8" y2="925" stroke="#101010" stroke-width="3.2" stroke-dasharray="10 4.2" stroke-dashoffset="0"/>
<line x1="842.3" y1="53" x2="831.2" y2="929" stroke="#101010" stroke-width="3.2" stroke-dasharray="10 4.2" stroke-dashoffset="0"/>
<line x1="1024.3" y1="53" x2="1015.3" y2="940" stroke="#101010" stroke-width="3.2" stroke-dasharray="10 4.2" stroke-dashoffset="0"/>
<line x1="1276" y1="385" x2="1264.5" y2="944" stroke="#101010" stroke-width="2.8" stroke-dasharray="10 4.2" stroke-dashoffset="0"/>
<line x1="180" y1="499.6" x2="1465" y2="495.1" stroke="#9a9a9a" stroke-opacity="0.85" stroke-width="2.8"/>
<line x1="1156" x2="1230.5" y1="116" y2="116" stroke="#2138cf" stroke-width="7.5" stroke-linecap="round"/>
<text transform="translate(1237.49,128.1) scale(1.1141,1)" font-size="45" fill="#0c0c0c">PM10</text>
<line x1="1156" x2="1230.5" y1="173" y2="173" stroke="#e61ee4" stroke-width="7.5" stroke-linecap="round"/>
<text transform="translate(1237.07,187.3) scale(1.1392,1)" font-size="45" fill="#0c0c0c">IPM</text>
<line x1="1156" x2="1230.5" y1="231.8" y2="231.8" stroke="#d9100c" stroke-width="9" stroke-linecap="round"/>
<text transform="translate(1238.01,244.7) scale(1.0788,1)" font-size="45" fill="#0c0c0c">TPM</text>
<line x1="1156" x2="1230.5" y1="289.3" y2="289.3" stroke="#e9aa80" stroke-width="7.5" stroke-linecap="round"/>
<text transform="translate(1237.77,303.3) scale(1.0646,1)" font-size="45" fill="#0c0c0c">RPM</text>
<line x1="1156" x2="1230.5" y1="347.8" y2="347.8" stroke="#23893f" stroke-width="7.8" stroke-linecap="round"/>
<text transform="translate(1237.52,360.6) scale(1.1046,1)" font-size="45" fill="#0c0c0c">PM2.5</text>
<text transform="translate(66.12,62.5) scale(1.1031,1)" font-size="45" fill="#101010">100</text>
<text transform="translate(92.00,238.5) scale(1.1243,1)" font-size="45" fill="#101010">80</text>
<text transform="translate(91.61,416.7) scale(1.1323,1)" font-size="45" fill="#101010">60</text>
<text transform="translate(94.67,516.5) scale(1.1292,1)" font-size="45" fill="#101010">50</text>
<text transform="translate(93.15,598.3) scale(1.1171,1)" font-size="45" fill="#101010">40</text>
<text transform="translate(92.03,778.0) scale(1.1340,1)" font-size="45" fill="#101010">20</text>
<text transform="translate(119.28,956.9) scale(1.2087,1)" font-size="45" fill="#101010">0</text>
<text transform="translate(183.94,1024.0) scale(1.1855,1)" font-size="45" fill="#6a6a6a">1</text>
<text transform="translate(408.04,1018.2) scale(1.0890,1)" font-size="45" fill="#101010">2.5</text>
<text transform="translate(565.09,1018.2) scale(1.0716,1)" font-size="45" fill="#101010">4</text>
<text transform="translate(801.00,1022.9) scale(1.1099,1)" font-size="45" fill="#666">10</text>
<text transform="translate(984.99,1022.0) scale(1.1101,1)" font-size="45" fill="#141414">20</text>
<text transform="translate(1239.57,1019.5) scale(1.1270,1)" font-size="45" fill="#141414">50</text>
<text transform="translate(1416.87,1023.3) scale(1.0888,1)" font-size="45" fill="#666">100</text>
<text transform="translate(516.80,1076.3) scale(1.0991,1)" font-size="45.5" fill="#1a1a1a">Aerodynamic Diameter (µm)</text>
<text transform="translate(61.8,865.25) rotate(-90) scale(1.0058,1.1)" font-size="45.5" fill="#1a1a1a">Particl Penetration Through Inlet (%)</text>
</svg>
</body></html>
